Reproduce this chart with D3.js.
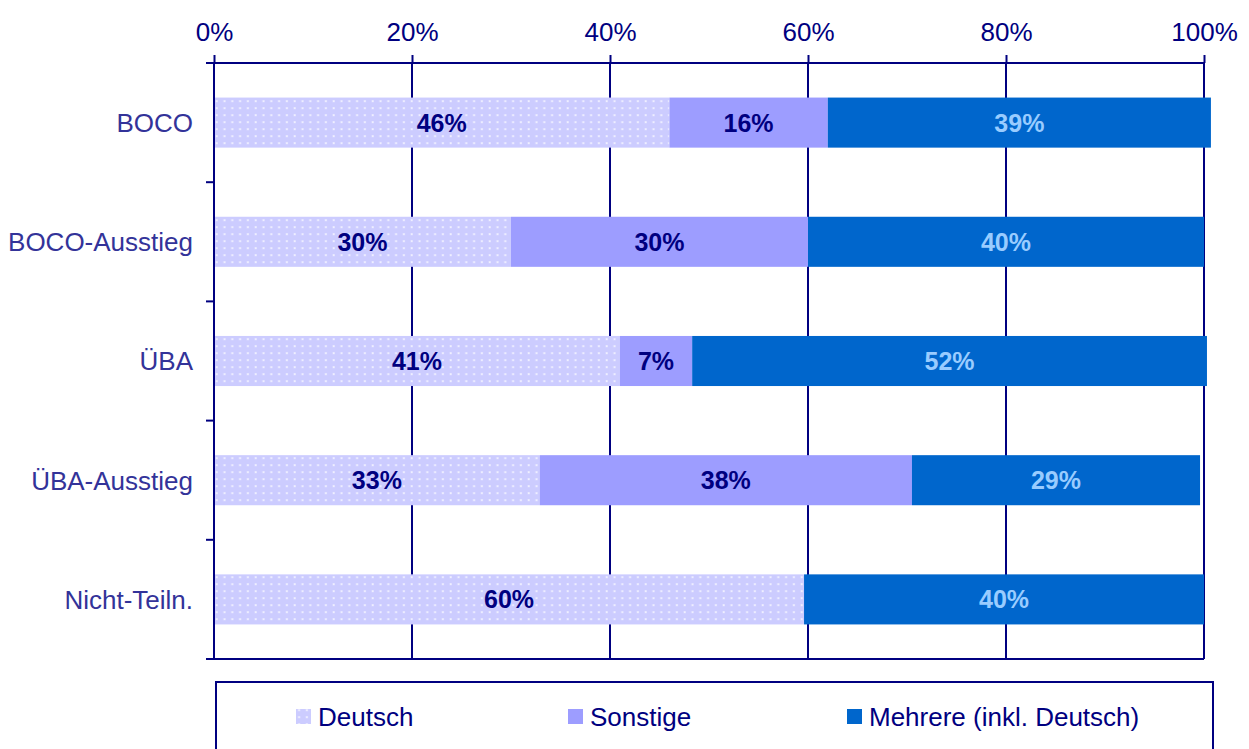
<!DOCTYPE html>
<html>
<head>
<meta charset="utf-8">
<script src="https://cdnjs.cloudflare.com/ajax/libs/d3/7.8.5/d3.min.js"></script>
<style>
  body { margin:0; background:#fff; }
  svg { display:block; font-family:"Liberation Sans", Arial, sans-serif; }
</style>
</head>
<body>
<div id="plot"></div>
<script>
// data
var categories = ['BOCO','BOCO-Ausstieg','ÜBA','ÜBA-Ausstieg','Nicht-Teiln.'];
var seriesNames = ['Deutsch','Sonstige','Mehrere (inkl. Deutsch)'];
var deutsch  = [46, 30, 41, 32.9, 59.6];
var sonstige = [16, 30, 7.3, 37.6, 0];
var mehrere  = [38.7, 40, 52, 29.1, 40.4];
var xTicks = [0, 20, 40, 60, 80, 100];

var colors = ['url(#dots)', '#9D9DFF', '#0066CC'];
var labelColors = ['#000080', '#000080', '#99CCFF'];
var navy = '#000080';

var W = 1249, H = 749;
var margin = {t:63, r:45, b:90, l:214};
var width = 1204 - margin.l,
    height = 659 - margin.t;

var svg = d3.select('#plot').append('svg')
    .attr('width', W).attr('height', H);

// dotted fill for Deutsch
var pat = svg.append('defs').append('pattern')
    .attr('id','dots').attr('patternUnits','userSpaceOnUse')
    .attr('width',7.8).attr('height',7);
pat.append('rect').attr('width',7.8).attr('height',7).attr('fill','#CCCCFF');
pat.append('rect').attr('x',1.5).attr('y',2).attr('width',2.4).attr('height',2.4).attr('fill','#DDDDFF');
pat.append('rect').attr('x',2).attr('y',2.5).attr('width',1.4).attr('height',1.4).attr('fill','#F4F4FF');

var plot = svg.append('g')
    .attr('transform','translate('+margin.l+','+margin.t+')');

var x = d3.scaleLinear().domain([0,100]).range([0,width]);
var y = d3.scaleBand().domain(categories).range([0,height]).paddingInner(0.58).paddingOuter(0.29);
var band = height / categories.length;

// gridlines
plot.selectAll('.grid').data(xTicks.slice(1)).enter().append('line')
    .attr('x1', function(d){ return x(d); }).attr('x2', function(d){ return x(d); })
    .attr('y1', 0).attr('y2', height)
    .attr('stroke', navy).attr('stroke-width', 2);

// stack the series
var rows = categories.map(function(c,i){
    return {cat:c, vals:[deutsch[i], sonstige[i], mehrere[i]]};
});
rows.forEach(function(r){
    var acc = 0;
    r.vals.forEach(function(v,k){
        var g = plot.append('g');
        if (v > 0) {
            g.append('rect')
                .attr('x', x(acc)).attr('width', x(acc+v)-x(acc))
                .attr('y', y(r.cat)).attr('height', y.bandwidth())
                .attr('fill', colors[k]);
            g.append('text')
                .attr('x', x(acc+v/2)).attr('y', y(r.cat)+y.bandwidth()/2)
                .attr('text-anchor','middle').attr('dy','0.36em')
                .attr('font-size', 25).attr('font-weight','bold')
                .attr('fill', labelColors[k])
                .text(Math.round(v)+'%');
        }
        acc += v;
    });
});

// axes
var xAxis = d3.axisTop(x).tickValues(xTicks).tickSize(8).tickPadding(14)
    .tickFormat(function(d){ return d+'%'; });
var gx = plot.append('g').call(xAxis);
gx.select('.domain').remove();
gx.append('line').attr('x1',-8).attr('x2',width).attr('y1',0).attr('y2',0)
    .attr('stroke',navy).attr('stroke-width',2);
gx.selectAll('.tick line').attr('stroke',navy).attr('stroke-width',2);
gx.selectAll('.tick text').attr('fill',navy).attr('font-size',26)
    .attr('font-family','"Liberation Sans", Arial, sans-serif');

// bottom line
plot.append('line').attr('x1',-8).attr('x2',width).attr('y1',height).attr('y2',height)
    .attr('stroke',navy).attr('stroke-width',2);

// left axis
plot.append('line').attr('x1',0).attr('x2',0).attr('y1',0).attr('y2',height)
    .attr('stroke',navy).attr('stroke-width',2);
plot.selectAll('.ytick').data(d3.range(categories.length+1)).enter().append('line')
    .attr('x1',-8).attr('x2',0)
    .attr('y1',function(i){ return i*band; }).attr('y2',function(i){ return i*band; })
    .attr('stroke',navy).attr('stroke-width',2);
plot.selectAll('.ylab').data(categories).enter().append('text')
    .attr('x',-21).attr('y',function(d){ return y(d)+y.bandwidth()/2; })
    .attr('dy','0.36em').attr('text-anchor','end')
    .attr('font-size',26).attr('fill','#333399')
    .text(function(d){ return d; });

// legend
var leg = svg.append('g');
leg.append('rect').attr('x',216).attr('y',682).attr('width',997).attr('height',100)
    .attr('fill','none').attr('stroke',navy).attr('stroke-width',2);
var legX = [296, 568, 847];
seriesNames.forEach(function(n,k){
    leg.append('rect').attr('x',legX[k]).attr('y',709).attr('width',15).attr('height',15)
        .attr('fill',colors[k]);
    leg.append('text').attr('x',legX[k]+22).attr('y',717).attr('dy','0.36em')
        .attr('font-size',26).attr('fill',navy).text(n);
});
</script>
</body>
</html>
